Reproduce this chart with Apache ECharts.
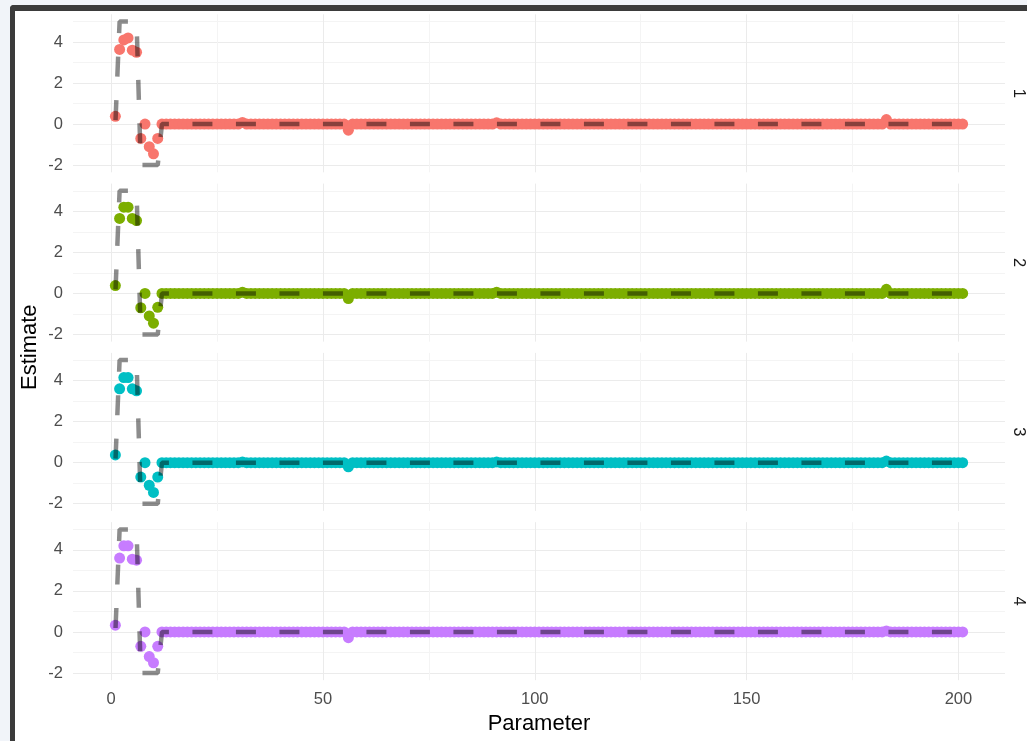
<!DOCTYPE html>
<html>
<head>
<meta charset="utf-8">
<script src="https://cdn.jsdelivr.net/npm/echarts@6/dist/echarts.min.js"></script>
<style>
html,body{margin:0;padding:0;width:1027px;height:741px;overflow:hidden;background:#f1f4f9;}
#frame{position:absolute;left:10px;top:5px;width:1100px;height:800px;background:#fff;border-left:5px solid #3b3b3b;border-top:6px solid #3b3b3b;border-top-left-radius:4px;}
#chart{position:absolute;left:0;top:0;width:1027px;height:741px;}
</style>
</head>
<body>
<div id="frame"></div>
<div id="chart"></div>
<script>
// Facet labels and colours
const facets = ['1', '2', '3', '4'];
const facetColors = ['#F8766D', '#7CAE00', '#00BFC4', '#C77CFF'];
const xTicks = [0, 50, 100, 150, 200];
const xMinor = [25, 75, 125, 175];
const yTicks = [-2, 0, 2, 4];
const yMinor = [-1, 1, 3, 5];

// True parameter values (dashed line), parameters 1..201
const truth = [
  0, 5, 5, 5, 5, 5, -2, -2, -2, -2, -2, 0, 0, 0, 0, 0, 0, 0, 0, 0,
  0, 0, 0, 0, 0, 0, 0, 0, 0, 0, 0, 0, 0, 0, 0, 0, 0, 0, 0, 0,
  0, 0, 0, 0, 0, 0, 0, 0, 0, 0, 0, 0, 0, 0, 0, 0, 0, 0, 0, 0,
  0, 0, 0, 0, 0, 0, 0, 0, 0, 0, 0, 0, 0, 0, 0, 0, 0, 0, 0, 0,
  0, 0, 0, 0, 0, 0, 0, 0, 0, 0, 0, 0, 0, 0, 0, 0, 0, 0, 0, 0,
  0, 0, 0, 0, 0, 0, 0, 0, 0, 0, 0, 0, 0, 0, 0, 0, 0, 0, 0, 0,
  0, 0, 0, 0, 0, 0, 0, 0, 0, 0, 0, 0, 0, 0, 0, 0, 0, 0, 0, 0,
  0, 0, 0, 0, 0, 0, 0, 0, 0, 0, 0, 0, 0, 0, 0, 0, 0, 0, 0, 0,
  0, 0, 0, 0, 0, 0, 0, 0, 0, 0, 0, 0, 0, 0, 0, 0, 0, 0, 0, 0,
  0, 0, 0, 0, 0, 0, 0, 0, 0, 0, 0, 0, 0, 0, 0, 0, 0, 0, 0, 0,
  0
];

// Estimates per facet, parameters 1..201
const est1 = [
  0.38, 3.64, 4.1, 4.2, 3.6, 3.5, -0.7, 0.0, -1.1, -1.45, -0.7, 0, 0, 0, 0, 0, 0, 0, 0, 0,
  0, 0, 0, 0, 0, 0, 0, 0, 0, 0, 0.08, 0, 0, 0, 0, 0, 0, 0, 0, 0,
  0, 0, 0, 0, 0, 0, 0, 0, 0, 0, 0, 0, 0, 0, 0, -0.3, 0, 0, 0, 0,
  0, 0, 0, 0, 0, 0, 0, 0, 0, 0, 0, 0, 0, 0, 0, 0, 0, 0, 0, 0,
  0, 0, 0, 0, 0, 0, 0, 0, 0, 0, 0.06, 0, 0, 0, 0, 0, 0, 0, 0, 0,
  0, 0, 0, 0, 0, 0, 0, 0, 0, 0, 0, 0, 0, 0, 0, 0, 0, 0, 0, 0,
  0, 0, 0, 0, 0, 0, 0, 0, 0, 0, 0, 0, 0, 0, 0, 0, 0, 0, 0, 0,
  0, 0, 0, 0, 0, 0, 0, 0, 0, 0, 0, 0, 0, 0, 0, 0, 0, 0, 0, 0,
  0, 0, 0, 0, 0, 0, 0, 0, 0, 0, 0, 0, 0, 0, 0, 0, 0, 0, 0, 0,
  0, 0, 0.22, 0, 0, 0, 0, 0, 0, 0, 0, 0, 0, 0, 0, 0, 0, 0, 0, 0,
  0
];
const est2 = [
  0.38, 3.65, 4.2, 4.2, 3.65, 3.55, -0.7, 0.0, -1.1, -1.45, -0.68, 0, 0, 0, 0, 0, 0, 0, 0, 0,
  0, 0, 0, 0, 0, 0, 0, 0, 0, 0, 0.06, 0, 0, 0, 0, 0, 0, 0, 0, 0,
  0, 0, 0, 0, 0, 0, 0, 0, 0, 0, 0, 0, 0, 0, 0, -0.25, 0, 0, 0, 0,
  0, 0, 0, 0, 0, 0, 0, 0, 0, 0, 0, 0, 0, 0, 0, 0, 0, 0, 0, 0,
  0, 0, 0, 0, 0, 0, 0, 0, 0, 0, 0.06, 0, 0, 0, 0, 0, 0, 0, 0, 0,
  0, 0, 0, 0, 0, 0, 0, 0, 0, 0, 0, 0, 0, 0, 0, 0, 0, 0, 0, 0,
  0, 0, 0, 0, 0, 0, 0, 0, 0, 0, 0, 0, 0, 0, 0, 0, 0, 0, 0, 0,
  0, 0, 0, 0, 0, 0, 0, 0, 0, 0, 0, 0, 0, 0, 0, 0, 0, 0, 0, 0,
  0, 0, 0, 0, 0, 0, 0, 0, 0, 0, 0, 0, 0, 0, 0, 0, 0, 0, 0, 0,
  0, 0, 0.2, 0, 0, 0, 0, 0, 0, 0, 0, 0, 0, 0, 0, 0, 0, 0, 0, 0,
  0
];
const est3 = [
  0.38, 3.6, 4.15, 4.15, 3.6, 3.5, -0.7, 0.0, -1.1, -1.45, -0.7, 0, 0, 0, 0, 0, 0, 0, 0, 0,
  0, 0, 0, 0, 0, 0, 0, 0, 0, 0, 0.03, 0, 0, 0, 0, 0, 0, 0, 0, 0,
  0, 0, 0, 0, 0, 0, 0, 0, 0, 0, 0, 0, 0, 0, 0, -0.2, 0, 0, 0, 0,
  0, 0, 0, 0, 0, 0, 0, 0, 0, 0, 0, 0, 0, 0, 0, 0, 0, 0, 0, 0,
  0, 0, 0, 0, 0, 0, 0, 0, 0, 0, 0.03, 0, 0, 0, 0, 0, 0, 0, 0, 0,
  0, 0, 0, 0, 0, 0, 0, 0, 0, 0, 0, 0, 0, 0, 0, 0, 0, 0, 0, 0,
  0, 0, 0, 0, 0, 0, 0, 0, 0, 0, 0, 0, 0, 0, 0, 0, 0, 0, 0, 0,
  0, 0, 0, 0, 0, 0, 0, 0, 0, 0, 0, 0, 0, 0, 0, 0, 0, 0, 0, 0,
  0, 0, 0, 0, 0, 0, 0, 0, 0, 0, 0, 0, 0, 0, 0, 0, 0, 0, 0, 0,
  0, 0, 0.08, 0, 0, 0, 0, 0, 0, 0, 0, 0, 0, 0, 0, 0, 0, 0, 0, 0,
  0
];
const est4 = [
  0.33, 3.6, 4.2, 4.2, 3.55, 3.5, -0.7, 0.0, -1.2, -1.5, -0.7, 0, 0, 0, 0, 0, 0, 0, 0, 0,
  0, 0, 0, 0, 0, 0, 0, 0, 0, 0, 0, 0, 0, 0, 0, 0, 0, 0, 0, 0,
  0, 0, 0, 0, 0, 0, 0, 0, 0, 0, 0, 0, 0, 0, 0, -0.28, 0, 0, 0, 0,
  0, 0, 0, 0, 0, 0, 0, 0, 0, 0, 0, 0, 0, 0, 0, 0, 0, 0, 0, 0,
  0, 0, 0, 0, 0, 0, 0, 0, 0, 0, 0, 0, 0, 0, 0, 0, 0, 0, 0, 0,
  0, 0, 0, 0, 0, 0, 0, 0, 0, 0, 0, 0, 0, 0, 0, 0, 0, 0, 0, 0,
  0, 0, 0, 0, 0, 0, 0, 0, 0, 0, 0, 0, 0, 0, 0, 0, 0, 0, 0, 0,
  0, 0, 0, 0, 0, 0, 0, 0, 0, 0, 0, 0, 0, 0, 0, 0, 0, 0, 0, 0,
  0, 0, 0, 0, 0, 0, 0, 0, 0, 0, 0, 0, 0, 0, 0, 0, 0, 0, 0, 0,
  0, 0, 0.05, 0, 0, 0, 0, 0, 0, 0, 0, 0, 0, 0, 0, 0, 0, 0, 0, 0,
  0
];
const estimates = [est1, est2, est3, est4];

const FONT = '"Liberation Sans", Arial, sans-serif';
const GRID_LEFT = 73, GRID_RIGHT = 22, GRID_H = 158;
const gridTops = [14.3, 183.6, 352.9, 522.2];
const X_MIN = -9, X_MAX = 211, Y_MIN = -2.35, Y_MAX = 5.35;

const grids = [], xAxes = [], yAxes = [], series = [], graphics = [];
facets.forEach((f, k) => {
  grids.push({left: GRID_LEFT, right: GRID_RIGHT, top: gridTops[k], height: GRID_H, containLabel: false});
  const last = k === facets.length - 1;
  xAxes.push({
    type: 'value', gridIndex: k, min: X_MIN, max: X_MAX,
    axisLine: {show: false},
    axisTick: {show: false, customValues: xTicks},
    axisLabel: {show: last, customValues: xTicks, color: '#4d4d4d', fontSize: 16.5, fontFamily: FONT, margin: 11},
    splitLine: {show: true, lineStyle: {color: '#ebebeb', width: 1}}
  });
  xAxes.push({
    type: 'value', gridIndex: k, min: X_MIN, max: X_MAX,
    axisLine: {show: false},
    axisTick: {show: false, customValues: xMinor},
    axisLabel: {show: false, customValues: xMinor},
    splitLine: {show: true, lineStyle: {color: '#f4f4f4', width: 1}}
  });
  yAxes.push({
    type: 'value', gridIndex: k, min: Y_MIN, max: Y_MAX,
    axisLine: {show: false},
    axisTick: {show: false, customValues: yTicks},
    axisLabel: {show: true, customValues: yTicks, color: '#4d4d4d', fontSize: 16.5, fontFamily: FONT, margin: 10},
    splitLine: {show: true, lineStyle: {color: '#ebebeb', width: 1}}
  });
  yAxes.push({
    type: 'value', gridIndex: k, min: Y_MIN, max: Y_MAX,
    axisLine: {show: false},
    axisTick: {show: false, customValues: yMinor},
    axisLabel: {show: false, customValues: yMinor},
    splitLine: {show: true, lineStyle: {color: '#f4f4f4', width: 1}}
  });
  const vals = estimates[k];
  series.push({
    type: 'scatter', xAxisIndex: 2 * k, yAxisIndex: 2 * k,
    data: vals.map((v, i) => [i + 1, v]),
    symbolSize: 11,
    itemStyle: {color: facetColors[k], opacity: 1},
    z: 2, silent: true, animation: false
  });
  series.push({
    type: 'line', xAxisIndex: 2 * k, yAxisIndex: 2 * k,
    data: truth.map((v, i) => [i + 1, v]),
    symbol: 'none',
    lineStyle: {color: 'rgba(0,0,0,0.45)', width: 4.5, type: [20, 23.5], dashOffset: -4, cap: 'butt'},
    z: 3, silent: true, animation: false
  });
  graphics.push({
    type: 'text', x: 1019, y: gridTops[k] + GRID_H / 2, rotation: -Math.PI / 2,
    style: {text: f, font: '16.5px ' + FONT, fill: '#1a1a1a', align: 'center', verticalAlign: 'middle'}
  });
});

graphics.push({
  type: 'text', x: 30, y: (gridTops[0] + gridTops[3] + GRID_H) / 2, rotation: Math.PI / 2,
  style: {text: 'Estimate', font: '22px ' + FONT, fill: '#000', align: 'center', verticalAlign: 'middle'}
});
graphics.push({
  type: 'text', x: (GRID_LEFT + 1027 - GRID_RIGHT) / 2, y: 724,
  style: {text: 'Parameter', font: '22px ' + FONT, fill: '#000', align: 'center', verticalAlign: 'middle'}
});

const chart = echarts.init(document.getElementById('chart'), null, {renderer: 'canvas'});
chart.setOption({
  backgroundColor: 'transparent',
  animation: false,
  grid: grids,
  xAxis: xAxes,
  yAxis: yAxes,
  series: series,
  graphic: graphics
});
</script>
</body>
</html>
